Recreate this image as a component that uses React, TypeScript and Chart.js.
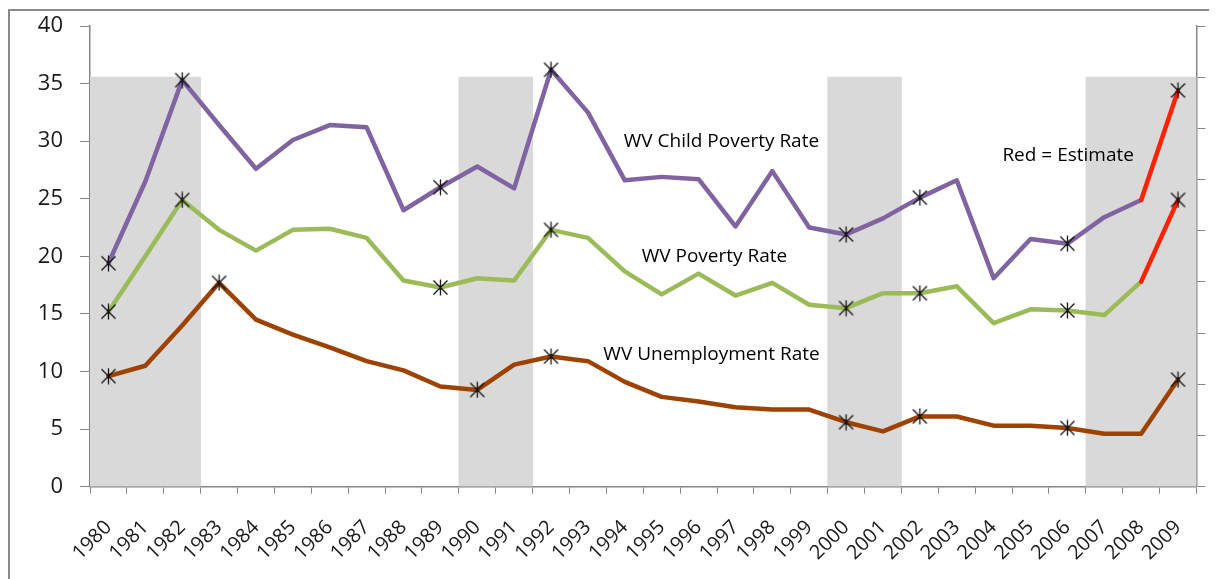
import React, { useEffect, useRef } from 'react';
import { Chart, registerables } from 'chart.js';

Chart.register(...registerables);

const years = [
  '1980', '1981', '1982', '1983', '1984', '1985', '1986', '1987', '1988', '1989',
  '1990', '1991', '1992', '1993', '1994', '1995', '1996', '1997', '1998', '1999',
  '2000', '2001', '2002', '2003', '2004', '2005', '2006', '2007', '2008', '2009',
];

const childPovertyRate = [
  19.4, 26.5, 35.3, 31.4, 27.6, 30.1, 31.4, 31.2, 24.0, 26.0,
  27.8, 25.9, 36.2, 32.5, 26.6, 26.9, 26.7, 22.6, 27.4, 22.5,
  21.9, 23.3, 25.1, 26.6, 18.1, 21.5, 21.1, 23.4, 24.9, 34.4,
];

const povertyRate = [
  15.2, 20.0, 24.9, 22.3, 20.5, 22.3, 22.4, 21.6, 17.9, 17.3,
  18.1, 17.9, 22.3, 21.6, 18.7, 16.7, 18.5, 16.6, 17.7, 15.8,
  15.5, 16.8, 16.8, 17.4, 14.2, 15.4, 15.3, 14.9, 17.8, 24.9,
];

const unemploymentRate = [
  9.6, 10.5, 14.0, 17.7, 14.5, 13.2, 12.1, 10.9, 10.1, 8.7,
  8.4, 10.6, 11.3, 10.9, 9.1, 7.8, 7.4, 6.9, 6.7, 6.7,
  5.6, 4.8, 6.1, 6.1, 5.3, 5.3, 5.1, 4.6, 4.6, 9.3,
];

// recession shading, on the unlabeled right axis (0-9)
const recessionBars = [
  8, 8, 8, null, null, null, null, null, null, null,
  8, 8, null, null, null, null, null, null, null, null,
  8, 8, null, null, null, null, null, 8, 8, 8,
];

const childMarkers = [0, 2, 9, 12, 20, 22, 26, 29];
const povertyMarkers = [0, 2, 9, 12, 20, 22, 26, 29];
const unemploymentMarkers = [0, 3, 10, 12, 20, 22, 26, 29];

const estimateStartIndex = 28;

const leftTicks = { min: 0, max: 40, step: 5 };
const rightTicks = { min: 0, max: 9, step: 1 };

const annotationTexts = [
  { text: 'WV Child Poverty Rate', x: 16.62, y: 30.0 },
  { text: 'WV Poverty Rate', x: 16.43, y: 20.0 },
  { text: 'WV Unemployment Rate', x: 16.35, y: 11.43 },
  { text: 'Red = Estimate', x: 26.02, y: 28.78 },
];

const AXIS_COLOR = '#868686';
const TEXT_COLOR = '#1a1a1a';

function makeAsterisk(): HTMLCanvasElement {
  const size = 17;
  const c = document.createElement('canvas');
  c.width = size;
  c.height = size;
  const g = c.getContext('2d')!;
  g.strokeStyle = '#111';
  g.lineWidth = 1.3;
  g.beginPath();
  g.moveTo(1.5, 1.5);
  g.lineTo(size - 1.5, size - 1.5);
  g.moveTo(size - 1.5, 1.5);
  g.lineTo(1.5, size - 1.5);
  g.moveTo(size / 2, 0.5);
  g.lineTo(size / 2, size - 0.5);
  g.stroke();
  return c;
}

const annotationPlugin = {
  id: 'textAnnotations',
  afterDatasetsDraw(chart: any) {
    const { ctx, scales } = chart;
    ctx.save();
    ctx.font = '19px "Open Sans"';
    ctx.fillStyle = '#000';
    ctx.textAlign = 'center';
    ctx.textBaseline = 'middle';
    for (const a of annotationTexts) {
      ctx.fillText(a.text, scales.x.getPixelForValue(a.x), scales.y.getPixelForValue(a.y));
    }
    ctx.restore();
  },
};

export default function App() {
  const canvasRef = useRef<HTMLCanvasElement | null>(null);

  useEffect(() => {
    document.documentElement.style.overflow = 'hidden';
    if (!canvasRef.current) return;
    const star = makeAsterisk();
    const markerRadius = (idx: number[]) => (ctx: any) => (idx.includes(ctx.dataIndex) ? 6 : 0);
    const estimateColor = (base: string) => (ctx: any) =>
      ctx.p0DataIndex >= estimateStartIndex ? '#FF2200' : base;

    const lineCommon = {
      type: 'line' as const,
      yAxisID: 'y',
      borderWidth: 4.5,
      tension: 0,
      fill: false,
      pointStyle: star,
      borderJoinStyle: 'round' as const,
      borderCapStyle: 'round' as const,
      order: 1,
    };

    const chart = new Chart(canvasRef.current, {
      type: 'bar',
      data: {
        labels: years,
        datasets: [
          {
            ...lineCommon,
            label: 'WV Child Poverty Rate',
            data: childPovertyRate,
            borderColor: '#8064A2',
            pointRadius: markerRadius(childMarkers),
            segment: { borderColor: estimateColor('#8064A2') },
          },
          {
            ...lineCommon,
            label: 'WV Poverty Rate',
            data: povertyRate,
            borderColor: '#9BBB59',
            pointRadius: markerRadius(povertyMarkers),
            segment: { borderColor: estimateColor('#9BBB59') },
          },
          {
            ...lineCommon,
            label: 'WV Unemployment Rate',
            data: unemploymentRate,
            borderColor: '#9E4200',
            pointRadius: markerRadius(unemploymentMarkers),
          },
          {
            type: 'bar',
            label: 'Recession',
            data: recessionBars,
            yAxisID: 'y2',
            backgroundColor: '#D9D9D9',
            borderWidth: 0,
            barPercentage: 1,
            categoryPercentage: 1,
            order: 10,
          },
        ] as any,
      },
      options: {
        animation: false,
        responsive: true,
        maintainAspectRatio: false,
        layout: { padding: { top: 15, left: 0, right: 0, bottom: 0 } },
        plugins: {
          legend: { display: false },
          tooltip: { enabled: false },
        },
        scales: {
          x: {
            type: 'category',
            offset: true,
            grid: {
              display: true,
              drawOnChartArea: false,
              drawTicks: true,
              tickLength: 7,
              color: AXIS_COLOR,
              offset: true,
            },
            border: { color: AXIS_COLOR, width: 1.5 },
            ticks: {
              autoSkip: false,
              maxRotation: 45,
              minRotation: 45,
              padding: 22,
              color: TEXT_COLOR,
              font: { family: '"Open Sans"', size: 20 },
            },
            afterFit: (s: any) => {
              s.height = 82.3;
              s.paddingLeft = 0;
              s.paddingRight = 0;
            },
          },
          y: {
            position: 'left',
            min: leftTicks.min,
            max: leftTicks.max,
            grid: {
              drawOnChartArea: false,
              drawTicks: true,
              tickLength: 10,
              color: AXIS_COLOR,
            },
            border: { color: AXIS_COLOR, width: 1.5 },
            ticks: {
              stepSize: leftTicks.step,
              padding: 17,
              color: TEXT_COLOR,
              font: { family: '"Open Sans"', size: 22 },
            },
            afterFit: (s: any) => {
              s.width = 80;
              s.paddingTop = 0;
              s.paddingBottom = 0;
            },
          },
          y2: {
            position: 'right',
            min: rightTicks.min,
            max: rightTicks.max,
            grid: {
              drawOnChartArea: false,
              drawTicks: true,
              tickLength: 9,
              color: AXIS_COLOR,
            },
            border: { color: AXIS_COLOR, width: 1.5 },
            ticks: { stepSize: rightTicks.step, display: false },
            afterFit: (s: any) => {
              s.width = 12.5;
              s.paddingTop = 0;
              s.paddingBottom = 0;
            },
          },
        },
      },
      plugins: [annotationPlugin],
    });
    return () => chart.destroy();
  }, []);

  return (
    <div
      style={{
        position: 'relative',
        top: 1,
        height: 572,
        borderLeft: '2px solid #8a8a8a',
        borderTop: '2px solid #8a8a8a',
      }}
    >
      <div style={{ position: 'relative', width: 1199, height: 558 }}>
        <canvas ref={canvasRef} />
      </div>
    </div>
  );
}
